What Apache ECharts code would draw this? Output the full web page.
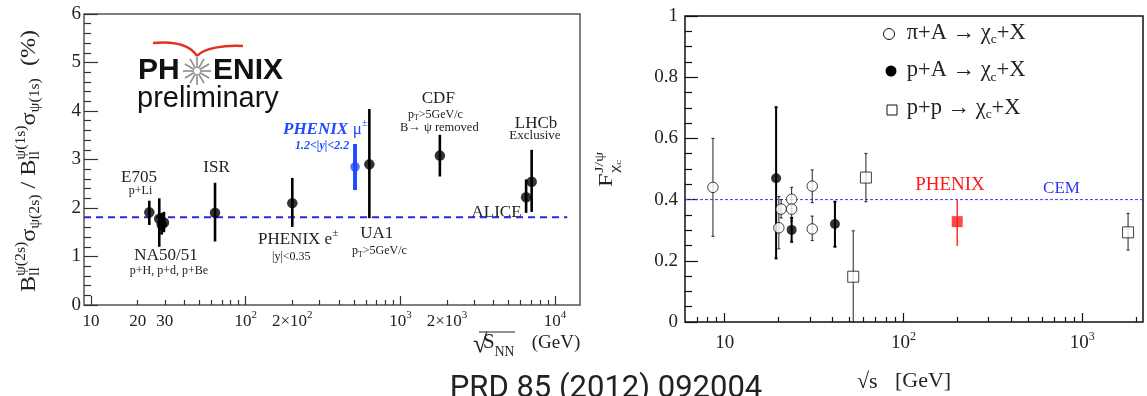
<!DOCTYPE html>
<html>
<head>
<meta charset="utf-8">
<script src="https://cdn.jsdelivr.net/npm/echarts@6/dist/echarts.min.js"></script>
<style>
  html, body { margin: 0; padding: 0; background: #fff; }
  #chart { width: 1147px; height: 396px; }
</style>
</head>
<body>
<div id="chart"></div>
<script>
// ---------- Left panel: psi(2S) / J/psi ratio (%) versus sqrt(s_NN) ----------
const ratioEnergy = [23.8, 27.6, 28.6, 29.6, 63.3, 200, 630, 1800, 6500, 7060];
const ratioValue  = [1.91, 1.78, 1.66, 1.70, 1.90, 2.10, 2.90, 3.08, 2.22, 2.54];
const ratioLow    = [1.65, 1.20, 1.45, 1.50, 1.31, 1.61, 1.79, 2.65, 1.90, 1.92];
const ratioHigh   = [2.15, 2.20, 1.90, 1.92, 2.52, 2.62, 4.04, 3.51, 2.59, 3.20];

// PHENIX forward muon point
const muEnergy = [509];
const muValue  = [2.85];
const muLow    = [2.37];
const muHigh   = [3.32];

const ratioAverage = 1.81;

// ---------- Right panel: chi_c feed-down fraction of J/psi ----------
const piAEnergy = [8.6, 20.1, 20.7, 23.7, 23.7, 30.9, 30.9];
const piAValue  = [0.44, 0.308, 0.369, 0.401, 0.369, 0.444, 0.304];
const piALow    = [0.28, 0.239, 0.34, 0.37, 0.33, 0.39, 0.266];
const piAHigh   = [0.60, 0.41, 0.40, 0.44, 0.40, 0.497, 0.346];

const pAEnergy = [19.4, 23.7, 41.4];
const pAValue  = [0.47, 0.301, 0.32];
const pALow    = [0.208, 0.262, 0.246];
const pAHigh   = [0.702, 0.34, 0.393];

const ppEnergy = [52.4, 61.7, 1807];
const ppValue  = [0.148, 0.472, 0.293];
const ppLow    = [0, 0.393, 0.235];
const ppHigh   = [0.298, 0.551, 0.355];

const phenixEnergy = [200];
const phenixValue  = [0.328];
const phenixLow    = [0.248];
const phenixHigh   = [0.40];

const cemValue = 0.40;

// ---------- Axis ticks and labels ----------
const leftMajorTicks  = [10, 100, 1000, 10000];
const leftMinorTicks  = [20, 30, 40, 50, 60, 70, 80, 90, 200, 300, 400, 500, 600, 700, 800, 900,
                         2000, 3000, 4000, 5000, 6000, 7000, 8000, 9000];
const leftLabelValues = [10, 20, 30, 100, 200, 1000, 2000, 10000];
const leftLabelTexts  = ['10', '20', '30', '10^2', '2×10^2', '10^3', '2×10^3', '10^4'];

const rightMajorTicks  = [10, 100, 1000];
const rightMinorTicks  = [7, 8, 9, 20, 30, 40, 50, 60, 70, 80, 90, 200, 300, 400, 500, 600, 700, 800, 900, 2000];
const rightLabelValues = [10, 100, 1000];
const rightLabelTexts  = ['10', '10^2', '10^3'];

// ---------- helpers ----------
const SERIF = "'Liberation Serif', 'DejaVu Serif', serif";
const SANS = "'Liberation Sans', 'DejaVu Sans', sans-serif";
const BLUE = '#1f4cff';

const measureCtx = document.createElement('canvas').getContext('2d');
function fontStr(size, o) {
  return (o.italic ? 'italic ' : '') + (o.bold ? 'bold ' : '') + size + 'px ' + (o.family || SERIF);
}
function measure(str, size, o) {
  measureCtx.font = fontStr(size, o);
  return measureCtx.measureText(str).width;
}
function textEl(str, x, y, size, o) {
  return {
    type: 'text', x: x, y: y, silent: true,
    style: {
      text: str, font: fontStr(size, o), fill: o.color || '#222',
      textAlign: 'left', textVerticalAlign: 'middle', align: 'left', verticalAlign: 'middle'
    }
  };
}
// tiny TeX-like parser: plain text, _{sub}, ^{sup}
function parseScript(s) {
  const parts = [];
  let i = 0, buf = '';
  while (i < s.length) {
    const c = s[i];
    if ((c === '_' || c === '^') && s[i + 1] === '{') {
      if (buf) { parts.push({ t: buf }); buf = ''; }
      const end = s.indexOf('}', i);
      let last = parts[parts.length - 1];
      if (!last || last.t !== undefined) { last = {}; parts.push(last); }
      last[c === '_' ? 'sub' : 'sup'] = s.slice(i + 2, end);
      i = end + 1;
    } else { buf += c; i++; }
  }
  if (buf) parts.push({ t: buf });
  return parts;
}
function scriptLine(str, o) {
  const size = o.size;
  const ss = size * (o.scriptScale || 0.65);
  const supY = -size * (o.supShift || 0.38);
  const subY = size * (o.subShift || 0.3);
  const children = [];
  let x = 0;
  parseScript(str).forEach(p => {
    if (p.t !== undefined) {
      children.push(textEl(p.t, x, 0, size, o));
      x += measure(p.t, size, o);
    } else {
      let w = 0;
      if (p.sup) { children.push(textEl(p.sup, x, supY, ss, o)); w = Math.max(w, measure(p.sup, ss, o)); }
      if (p.sub) { children.push(textEl(p.sub, x, subY, ss, o)); w = Math.max(w, measure(p.sub, ss, o)); }
      x += w;
    }
  });
  return { children: children, width: x };
}
function note(o) {
  const built = scriptLine(o.text, o);
  const x = o.anchor === 'left' ? o.x : o.x - built.width / 2;
  return { type: 'group', x: x, y: o.y, children: built.children };
}
function rotatedTitle(o) {
  const built = scriptLine(o.text, o);
  return {
    type: 'group', x: o.x, y: o.y, rotation: Math.PI / 2, scaleX: o.stretch || 1,
    children: [{ type: 'group', x: -built.width / 2, y: 0, children: built.children }]
  };
}
function expFormatter(values, texts) {
  return function (v) {
    let idx = 0, best = Infinity;
    values.forEach((t, i) => { const d = Math.abs(Math.log10(t) - v); if (d < best) { best = d; idx = i; } });
    const s = texts[idx];
    const m = s.split('^');
    return m.length > 1 ? '{b|' + m[0] + '}{e|' + m[1] + '}' : '{b|' + s + '}';
  };
}
function errorBars(xIdx, yIdx, xs, lo, hi, color, width, cap) {
  return {
    type: 'custom', xAxisIndex: xIdx, yAxisIndex: yIdx, silent: true, z: 2, clip: false,
    data: xs.map((x, i) => [x, lo[i], hi[i]]),
    encode: { x: 0, y: [1, 2] },
    renderItem: function (params, api) {
      const a = api.coord([api.value(0), api.value(1)]);
      const b = api.coord([api.value(0), api.value(2)]);
      const st = { stroke: color, lineWidth: width };
      const ch = [{ type: 'line', shape: { x1: a[0], y1: a[1], x2: b[0], y2: b[1] }, style: st }];
      if (cap) {
        ch.push({ type: 'line', shape: { x1: a[0] - cap / 2, y1: a[1], x2: a[0] + cap / 2, y2: a[1] }, style: st });
        ch.push({ type: 'line', shape: { x1: b[0] - cap / 2, y1: b[1], x2: b[0] + cap / 2, y2: b[1] }, style: st });
      }
      return { type: 'group', children: ch };
    }
  };
}
const pts = (xs, ys) => xs.map((x, i) => [x, ys[i]]);

// ---------- layout ----------
const L = { left: 84, top: 14, width: 496, height: 291 };
const R = { left: 685, top: 16, width: 458, height: 306 };
const gridBase = { outerBoundsMode: 'none', containLabel: false };
const tickStyle = { color: '#333', width: 1.2 };
const lxMin = 9, lxMax = 14500, rxMin = 6, rxMax = 2190;

const richLeft = {
  b: { fontSize: 17, fontFamily: SERIF, color: '#222', lineHeight: 24 },
  e: { fontSize: 11, fontFamily: SERIF, color: '#222', verticalAlign: 'top' }
};
const richRight = {
  b: { fontSize: 19, fontFamily: SERIF, color: '#222', lineHeight: 24 },
  e: { fontSize: 12, fontFamily: SERIF, color: '#222', verticalAlign: 'top' }
};

// ---------- annotations ----------
const notes = [
  { text: 'E705', x: 139, y: 177.5, size: 17 },
  { text: 'p+Li', x: 140.5, y: 190.5, size: 12 },
  { text: 'ISR', x: 216.5, y: 168, size: 17 },
  { text: 'NA50/51', x: 166, y: 256, size: 17 },
  { text: 'p+H, p+d, p+Be', x: 169, y: 270.5, size: 12 },
  { text: 'PHENIX e^{±}', x: 258, y: 240, size: 17, anchor: 'left' },
  { text: '|y|<0.35', x: 272, y: 256.5, size: 12, anchor: 'left' },
  { text: 'UA1', x: 376.7, y: 233.5, size: 17 },
  { text: 'p_{T}>5GeV/c', x: 352, y: 251, size: 12, anchor: 'left' },
  { text: 'ALICE', x: 496.5, y: 212.5, size: 17 },
  { text: 'CDF', x: 438.3, y: 99, size: 17 },
  { text: 'p_{T}>5GeV/c', x: 408, y: 114.5, size: 12, anchor: 'left' },
  { text: 'B→ ψ removed', x: 400, y: 127.5, size: 12.5, anchor: 'left' },
  { text: 'LHCb', x: 536, y: 124, size: 17 },
  { text: 'Exclusive', x: 535, y: 136, size: 13 },
  { text: 'PHENIX', x: 283, y: 130, size: 17, anchor: 'left', color: BLUE, bold: true, italic: true },
  { text: 'μ^{±}', x: 352.7, y: 130, size: 17, anchor: 'left', color: BLUE },
  { text: '1.2<|y|<2.2', x: 295, y: 146, size: 12, anchor: 'left', color: BLUE, bold: true, italic: true },
  { text: 'PHENIX', x: 950, y: 185.5, size: 19, color: '#ff1a1a' },
  { text: 'CEM', x: 1061.5, y: 189, size: 17, color: '#3333ff' },
  // legend rows
  { text: 'π+A → χ_{c}+X', x: 906.7, y: 33, size: 22.5, anchor: 'left', scriptScale: 0.6 },
  { text: 'p+A → χ_{c}+X', x: 906.7, y: 70.5, size: 22.5, anchor: 'left', scriptScale: 0.6 },
  { text: 'p+p → χ_{c}+X', x: 906.7, y: 108, size: 22.5, anchor: 'left', scriptScale: 0.6 },
  // axis titles
  { text: '√', x: 473, y: 345, size: 26, anchor: 'left' },
  { text: 'S_{NN}', x: 483, y: 342, size: 21, anchor: 'left', subShift: 0.5 },
  { text: '(GeV)', x: 531.7, y: 343.5, size: 19, anchor: 'left' },
  { text: '√s', x: 857, y: 382, size: 22, anchor: 'left' },
  { text: '[GeV]', x: 895, y: 381.5, size: 22, anchor: 'left' },
  // PHENIX logo lettering
  { text: 'PH', x: 138, y: 71, size: 30, anchor: 'left', family: SANS, bold: true, color: '#111' },
  { text: 'ENIX', x: 213, y: 71, size: 30, anchor: 'left', family: SANS, bold: true, color: '#111' },
  { text: 'preliminary', x: 137, y: 99, size: 29, anchor: 'left', family: SANS, color: '#111' },
  // reference caption
  { text: 'PRD 85 (2012) 092004', x: 606, y: 389, size: 31, family: 'Roboto, sans-serif', color: '#222' }
];

const elements = notes.map(note);

// rotated y-axis titles
elements.push(rotatedTitle({
  text: 'B_{ll}^{ψ(2s)}σ_{ψ(2s)} / B_{ll}^{ψ(1s)}σ_{ψ(1s)}  (%)',
  x: 29, y: 161, size: 21, stretch: 1.15
}));
(function () {
  const o = {};
  const wF = measure('F', 18, o);
  const wChi = measure('χ', 13, o);
  elements.push({
    type: 'group', x: 607.5, y: 187, rotation: Math.PI / 2, scaleX: 1.35,
    children: [
      textEl('F', 0, 0, 18, o),
      textEl('J/ψ', wF + 0.5, -8, 12, o),
      textEl('χ', wF + 0.5, 7, 13, o),
      textEl('c', wF + 0.5 + wChi, 11, 9, o)
    ]
  });
})();

// sqrt overline over S_NN
elements.push({ type: 'line', silent: true, shape: { x1: 479, y1: 332, x2: 515, y2: 332 }, style: { stroke: '#222', lineWidth: 1 } });

// legend markers
elements.push({ type: 'circle', silent: true, shape: { cx: 889, cy: 34, r: 5.5 }, style: { fill: '#fff', stroke: '#111', lineWidth: 1 } });
elements.push({ type: 'circle', silent: true, shape: { cx: 891, cy: 71, r: 5.5 }, style: { fill: '#000' } });
elements.push({ type: 'rect', silent: true, shape: { x: 887, y: 105, width: 10, height: 10 }, style: { fill: '#fff', stroke: '#111', lineWidth: 1 } });

// logo: red swoosh and star burst
elements.push({ type: 'bezierCurve', silent: true,
  shape: { x1: 153, y1: 43, cpx1: 175, cpy1: 41, cpx2: 190, cpy2: 45, x2: 197, y2: 56 },
  style: { stroke: '#e3301f', lineWidth: 2.5, fill: null } });
elements.push({ type: 'bezierCurve', silent: true,
  shape: { x1: 197, y1: 56, cpx1: 204, cpy1: 48, cpx2: 224, cpy2: 45, x2: 243, y2: 46 },
  style: { stroke: '#e3301f', lineWidth: 2.5, fill: null } });
(function () {
  const spokes = [];
  for (let k = 0; k < 12; k++) {
    const a = k * Math.PI / 6;
    spokes.push({ type: 'line', shape: { x1: 3 * Math.cos(a), y1: 3 * Math.sin(a), x2: 14 * Math.cos(a), y2: 14 * Math.sin(a) },
      style: { stroke: '#8c8c8c', lineWidth: 1.6 } });
  }
  elements.push({ type: 'group', x: 197, y: 71, silent: true, children: spokes });
})();

// ---------- chart ----------
const chart = echarts.init(document.getElementById('chart'), null, { renderer: 'canvas' });

const hiddenY = (g) => ({ type: 'value', gridIndex: g, show: false, min: 0, max: 1 });

const option = {
  animation: false,
  backgroundColor: '#fff',
  grid: [
    Object.assign({}, gridBase, L, { show: true, borderColor: '#555', borderWidth: 1.5, backgroundColor: 'rgba(0,0,0,0)' }),
    Object.assign({}, gridBase, L),
    Object.assign({}, gridBase, L),
    Object.assign({}, gridBase, R, { show: true, borderColor: '#111', borderWidth: 1.5, backgroundColor: 'rgba(0,0,0,0)' }),
    Object.assign({}, gridBase, R),
    Object.assign({}, gridBase, R)
  ],
  xAxis: [
    { type: 'log', gridIndex: 0, logBase: 10, min: lxMin, max: lxMax,
      axisLine: { show: false }, axisTick: { show: false }, axisLabel: { show: false }, splitLine: { show: false } },
    { type: 'value', gridIndex: 1, min: Math.log10(lxMin), max: Math.log10(lxMax),
      axisLine: { show: false }, splitLine: { show: false },
      axisTick: { show: true, inside: true, length: 9, customValues: leftMajorTicks.map(Math.log10), lineStyle: tickStyle },
      axisLabel: { show: true, margin: 5, customValues: leftLabelValues.map(Math.log10),
        formatter: expFormatter(leftLabelValues, leftLabelTexts), rich: richLeft } },
    { type: 'value', gridIndex: 2, min: Math.log10(lxMin), max: Math.log10(lxMax),
      axisLine: { show: false }, splitLine: { show: false }, axisLabel: { show: false },
      axisTick: { show: true, inside: true, length: 5, customValues: leftMinorTicks.map(Math.log10), lineStyle: tickStyle } },
    { type: 'log', gridIndex: 3, logBase: 10, min: rxMin, max: rxMax,
      axisLine: { show: false }, axisTick: { show: false }, axisLabel: { show: false }, splitLine: { show: false } },
    { type: 'value', gridIndex: 4, min: Math.log10(rxMin), max: Math.log10(rxMax),
      axisLine: { show: false }, splitLine: { show: false },
      axisTick: { show: true, inside: true, length: 9, customValues: rightMajorTicks.map(Math.log10), lineStyle: { color: '#111', width: 1.2 } },
      axisLabel: { show: true, margin: 9, customValues: rightLabelValues.map(Math.log10),
        formatter: expFormatter(rightLabelValues, rightLabelTexts), rich: richRight } },
    { type: 'value', gridIndex: 5, min: Math.log10(rxMin), max: Math.log10(rxMax),
      axisLine: { show: false }, splitLine: { show: false }, axisLabel: { show: false },
      axisTick: { show: true, inside: true, length: 5, customValues: rightMinorTicks.map(Math.log10), lineStyle: { color: '#111', width: 1.2 } } }
  ],
  yAxis: [
    { type: 'value', gridIndex: 0, min: 0, max: 6, interval: 1,
      axisLine: { show: false }, splitLine: { show: false },
      axisTick: { show: true, inside: true, length: 14, lineStyle: tickStyle },
      minorTick: { show: true, splitNumber: 5, length: 7, lineStyle: tickStyle },
      axisLabel: { margin: 3, fontSize: 19, fontFamily: SERIF, color: '#222' } },
    hiddenY(1), hiddenY(2),
    { type: 'value', gridIndex: 3, min: 0, max: 1, interval: 0.2,
      axisLine: { show: false }, splitLine: { show: false },
      axisTick: { show: true, inside: true, length: 13, lineStyle: { color: '#111', width: 1.2 } },
      minorTick: { show: true, splitNumber: 4, length: 7, lineStyle: { color: '#111', width: 1.2 } },
      axisLabel: { margin: 7, fontSize: 19, fontFamily: SERIF, color: '#222',
        formatter: v => (Math.abs(v) < 1e-9 ? '0' : (Math.abs(v - 1) < 1e-9 ? '1' : v.toFixed(1))) } },
    hiddenY(4), hiddenY(5)
  ],
  series: [
    // left panel
    { type: 'line', xAxisIndex: 0, yAxisIndex: 0, silent: true, symbol: 'none', z: 1,
      data: [[lxMin, ratioAverage], [12000, ratioAverage]],
      lineStyle: { color: '#2a2ae8', width: 2, type: [7, 5] } },
    errorBars(0, 0, ratioEnergy, ratioLow, ratioHigh, '#000', 2.6, 0),
    errorBars(0, 0, muEnergy, muLow, muHigh, BLUE, 4, 0),
    { type: 'scatter', xAxisIndex: 0, yAxisIndex: 0, silent: true, z: 3, symbol: 'circle', symbolSize: 10.5,
      data: pts(ratioEnergy, ratioValue), itemStyle: { color: '#000' } },
    { type: 'scatter', xAxisIndex: 0, yAxisIndex: 0, silent: true, z: 3, symbol: 'circle', symbolSize: 9.5,
      data: pts(muEnergy, muValue), itemStyle: { color: BLUE } },
    // right panel
    { type: 'line', xAxisIndex: 3, yAxisIndex: 3, silent: true, symbol: 'none', z: 1,
      data: [[rxMin, cemValue], [rxMax, cemValue]],
      lineStyle: { color: '#3a3aff', width: 1, type: [3, 2] } },
    errorBars(3, 3, piAEnergy, piALow, piAHigh, '#222', 1, 3),
    errorBars(3, 3, pAEnergy, pALow, pAHigh, '#000', 2, 3),
    errorBars(3, 3, ppEnergy, ppLow, ppHigh, '#222', 1, 3),
    errorBars(3, 3, phenixEnergy, phenixLow, phenixHigh, '#ff3030', 1.5, 0),
    { name: 'π+A → χc+X', type: 'scatter', xAxisIndex: 3, yAxisIndex: 3, silent: true, z: 3,
      symbol: 'circle', symbolSize: 10.5, data: pts(piAEnergy, piAValue),
      itemStyle: { color: '#fff', borderColor: '#111', borderWidth: 1 } },
    { name: 'p+A → χc+X', type: 'scatter', xAxisIndex: 3, yAxisIndex: 3, silent: true, z: 3,
      symbol: 'circle', symbolSize: 10, data: pts(pAEnergy, pAValue), itemStyle: { color: '#000' } },
    { name: 'p+p → χc+X', type: 'scatter', xAxisIndex: 3, yAxisIndex: 3, silent: true, z: 3,
      symbol: 'rect', symbolSize: 11, data: pts(ppEnergy, ppValue),
      itemStyle: { color: '#fff', borderColor: '#111', borderWidth: 1 } },
    { name: 'PHENIX', type: 'scatter', xAxisIndex: 3, yAxisIndex: 3, silent: true, z: 3,
      symbol: 'rect', symbolSize: 11, data: pts(phenixEnergy, phenixValue), itemStyle: { color: '#ff1a1a' } }
  ],
  graphic: { elements: elements }
};

chart.setOption(option);
</script>
</body>
</html>
